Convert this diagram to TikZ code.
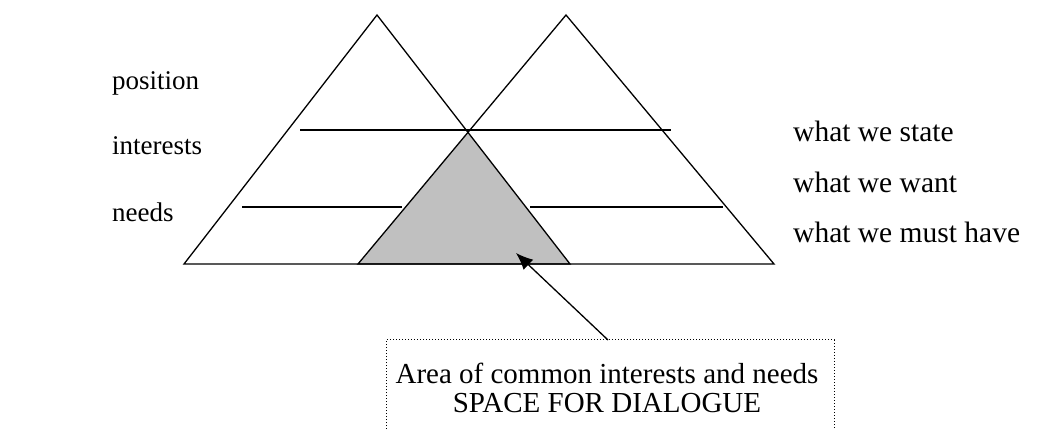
\documentclass[tikz,border=0pt]{standalone}
\usepackage{fontspec}
\setmainfont{Liberation Serif}
\usetikzlibrary{arrows.meta}
\definecolor{areagray}{RGB}{192,192,192}
\tikzset{
  tri/.style={draw=black, line width=1.3pt, line join=miter},
  level/.style={draw=black, line width=2.2pt},
  lbl/.style={anchor=base west, inner sep=0pt, font=\fontsize{27}{32}\selectfont},
  rlbl/.style={anchor=base west, inner sep=0pt, font=\fontsize{29.5}{34}\selectfont},
  boxtext/.style={align=center, inner sep=0pt, font=\fontsize{29}{28.5}\selectfont},
  pointer/.style={draw=black, line width=1.3pt, -{Latex[length=17pt,width=14pt]}},
  dotbox/.style={draw=black, line width=1pt, dotted}
}
\begin{document}
\begin{tikzpicture}[x=1pt,y=-1pt]
\useasboundingbox (0,0) rectangle (1047,430);
% gray common area
\fill[areagray] (468,132) -- (358,264) -- (570,264) -- cycle;
% triangles
\draw[tri] (377,15) -- (184,264) -- (570,264) -- cycle;
\draw[tri] (566,15) -- (358,264) -- (774,264) -- cycle;
% level lines
\draw[level] (300,130) -- (671,130);
\draw[level] (242,207) -- (402,207);
\draw[level] (530,207) -- (723,207);
% left labels
\node[lbl] (pos) at (112,90) {position};
\node[lbl] (int) at (112,155) {interests};
\node[lbl] (nee) at (112,222) {needs};
% right labels
\node[rlbl] (st) at (793,142) {what we state};
\node[rlbl] (wa) at (793,193) {what we want};
\node[rlbl] (mu) at (793,243) {what we must have};
% dialogue box
\draw[dotbox] (386,432) -- (386,340) -- (834,340) -- (834,432);
\node[boxtext] (box) at (607,388) {Area of common interests and needs\\SPACE FOR DIALOGUE};
\coordinate (boxtop) at (608,340);
\coordinate (area) at (516,253);
\draw[pointer] (boxtop) -- (area);
\end{tikzpicture}
\end{document}
